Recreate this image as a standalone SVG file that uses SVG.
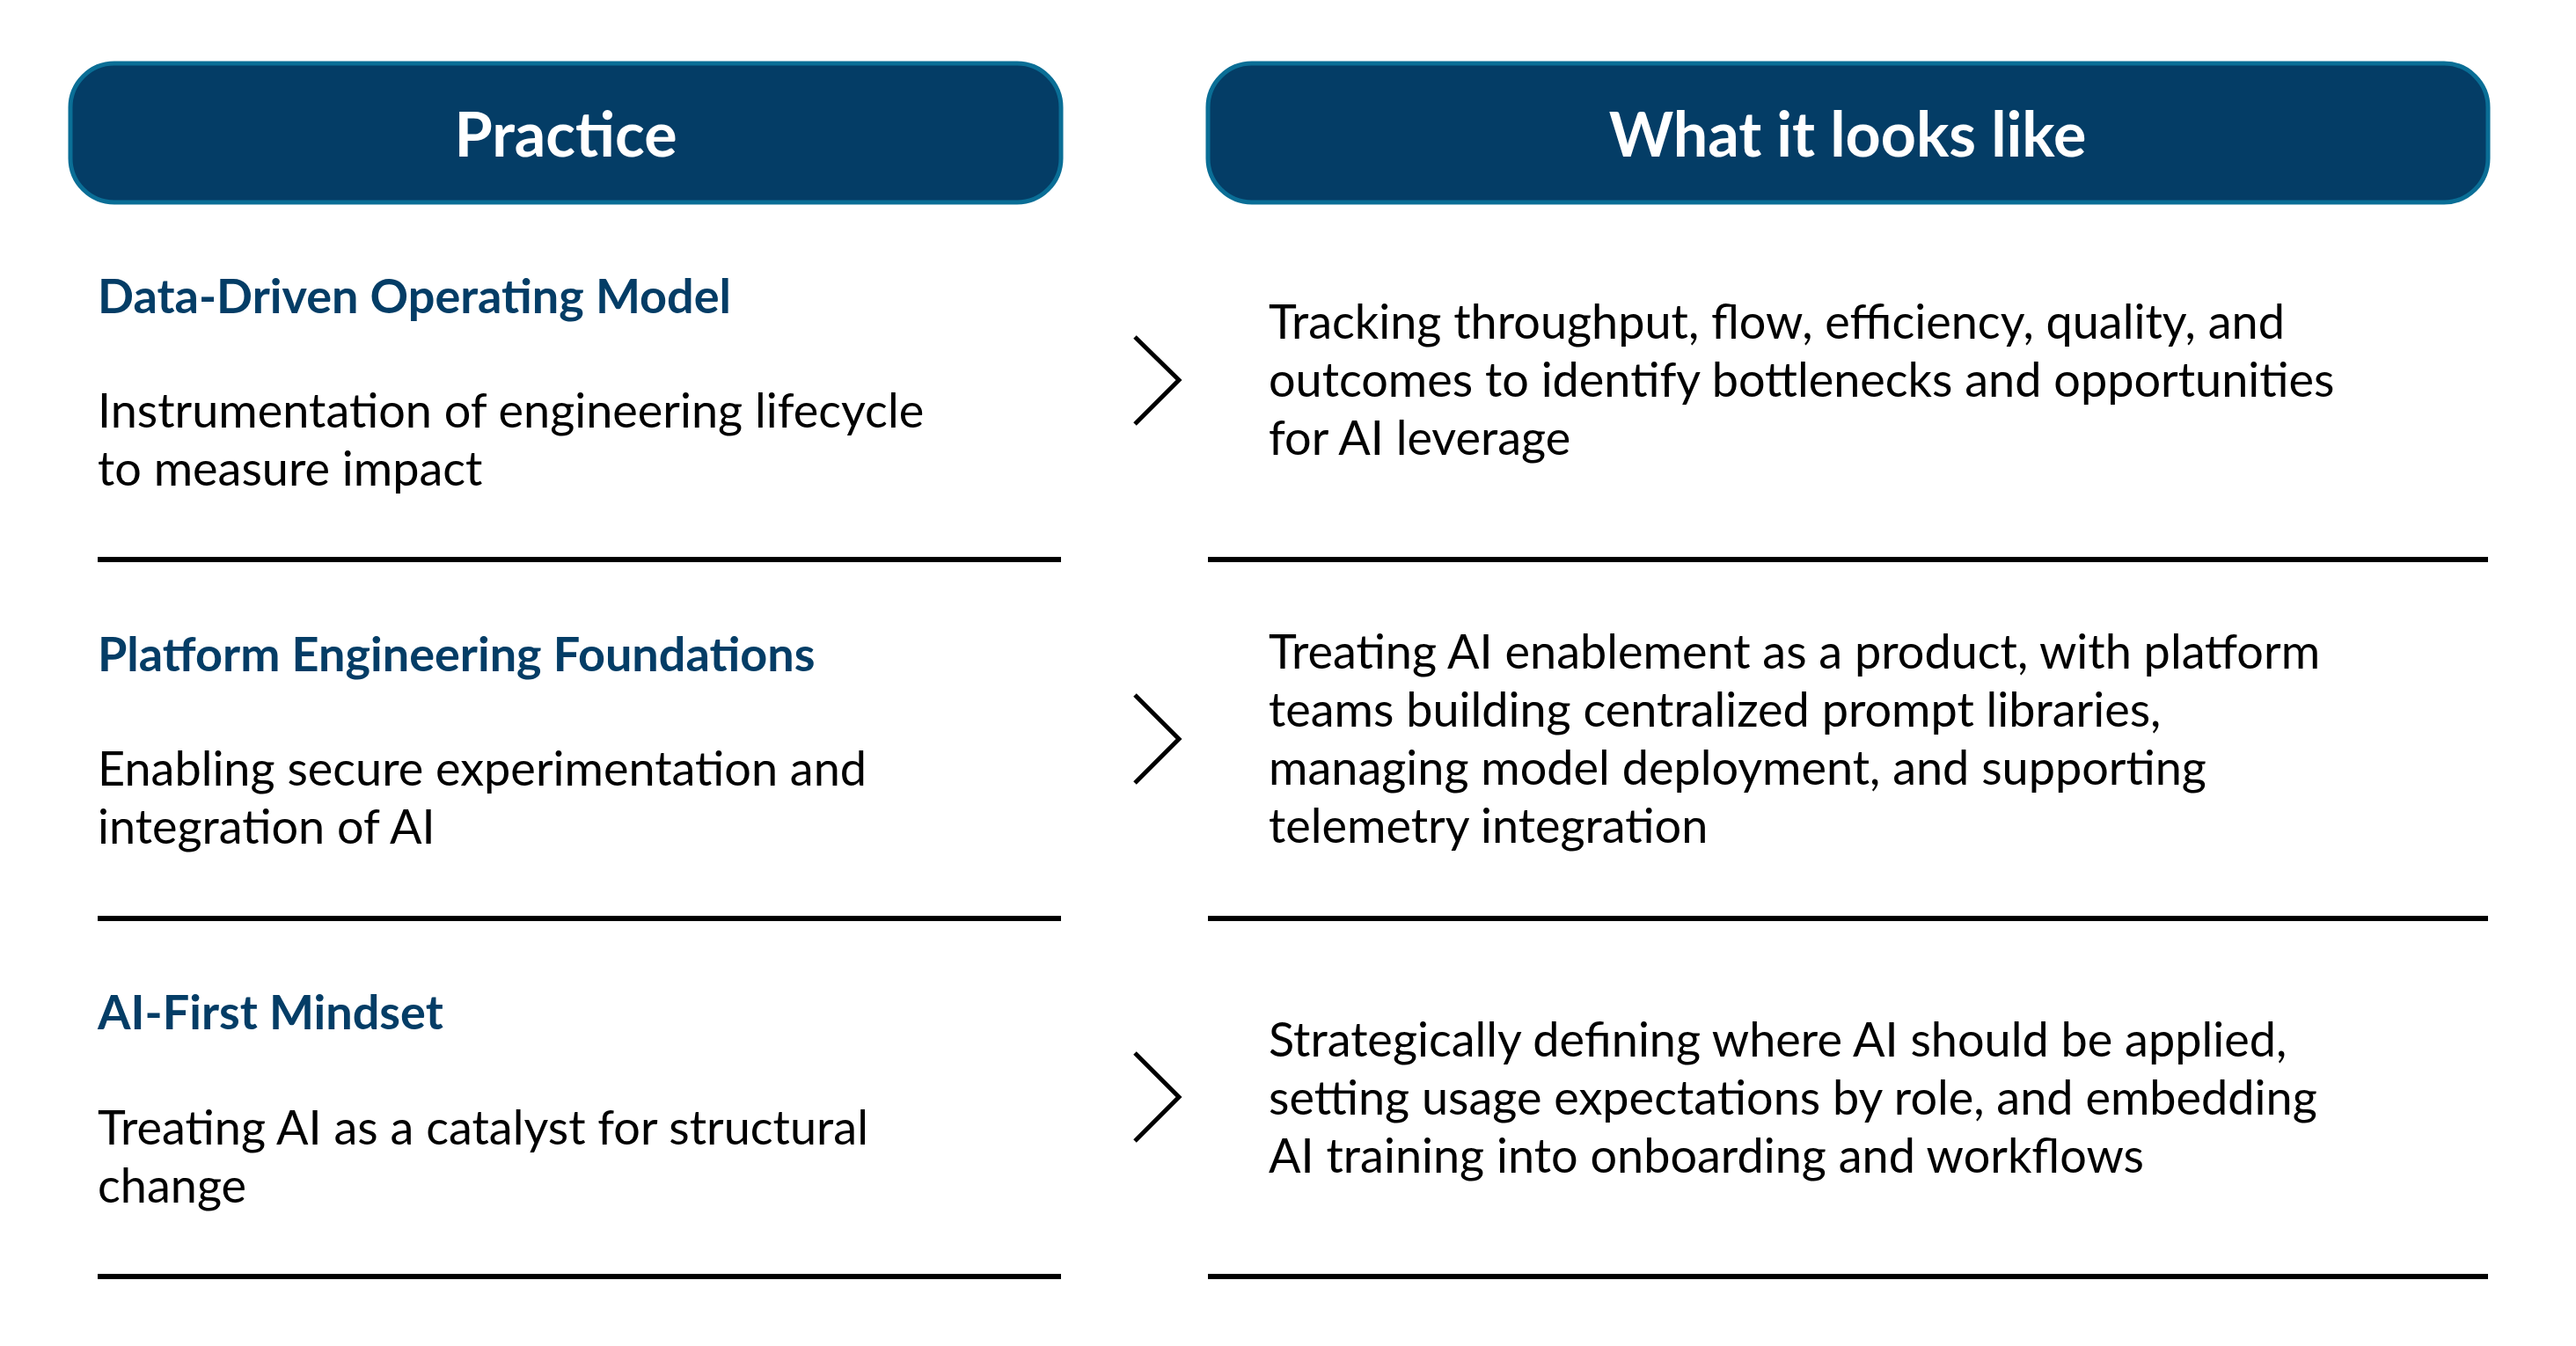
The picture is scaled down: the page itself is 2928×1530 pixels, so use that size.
<svg xmlns="http://www.w3.org/2000/svg" width="2928" height="1530" viewBox="0 0 2928 1530">
<style>
.hdr{fill:#043d66;stroke:#0a6e96;stroke-width:5}
.ht{font-family:Lato,"Liberation Sans",sans-serif;font-weight:bold;font-size:70px;fill:#fff;text-anchor:middle}
.sub{font-family:Lato,"Liberation Sans",sans-serif;font-weight:bold;font-size:54px;fill:#043d66}
.bd{font-family:Lato,"Liberation Sans",sans-serif;font-size:54px;fill:#000}
.ln{stroke:#000;stroke-width:6}
.ch{fill:none;stroke:#000;stroke-width:5}
</style>
<rect width="2928" height="1530" fill="#fff"/>
<g id="hdr-practice"><rect class="hdr" x="80" y="72" width="1126" height="158" rx="50"/><text class="ht" x="643" y="178">Practice</text></g>
<g id="hdr-looks"><rect class="hdr" x="1373" y="72" width="1455" height="158" rx="50"/><text class="ht" x="2100" y="178">What it looks like</text></g>
<g id="row1-left"><text class="sub" x="111" y="356">Data-Driven Operating Model</text>
<text class="bd" x="111" y="486">Instrumentation of engineering lifecycle</text><text class="bd" x="111" y="552">to measure impact</text></g>
<g id="row1-right"><text class="bd" x="1442" y="385">Tracking throughput, flow, efficiency, quality, and</text><text class="bd" x="1442" y="451">outcomes to identify bottlenecks and opportunities</text><text class="bd" x="1442" y="517">for AI leverage</text></g>
<g id="row2-left"><text class="sub" x="111" y="763">Platform Engineering Foundations</text>
<text class="bd" x="111" y="893">Enabling secure experimentation and</text><text class="bd" x="111" y="959">integration of AI</text></g>
<g id="row2-right"><text class="bd" x="1442" y="760">Treating AI enablement as a product, with platform</text><text class="bd" x="1442" y="826">teams building centralized prompt libraries,</text><text class="bd" x="1442" y="892">managing model deployment, and supporting</text><text class="bd" x="1442" y="958">telemetry integration</text></g>
<g id="row3-left"><text class="sub" x="111" y="1170">AI-First Mindset</text>
<text class="bd" x="111" y="1301">Treating AI as a catalyst for structural</text><text class="bd" x="111" y="1367">change</text></g>
<g id="row3-right"><text class="bd" x="1442" y="1201">Strategically defining where AI should be applied,</text><text class="bd" x="1442" y="1267">setting usage expectations by role, and embedding</text><text class="bd" x="1442" y="1333">AI training into onboarding and workflows</text></g>
<g id="connectors">
<path class="ch" d="M1290 383 L1340 432 L1290 482"/>
<path class="ch" d="M1290 790 L1340 840 L1290 890"/>
<path class="ch" d="M1290 1197 L1340 1247 L1290 1297"/>
<line class="ln" x1="111" y1="636" x2="1206" y2="636"/><line class="ln" x1="1373" y1="636" x2="2828" y2="636"/>
<line class="ln" x1="111" y1="1044" x2="1206" y2="1044"/><line class="ln" x1="1373" y1="1044" x2="2828" y2="1044"/>
<line class="ln" x1="111" y1="1451" x2="1206" y2="1451"/><line class="ln" x1="1373" y1="1451" x2="2828" y2="1451"/>
</g>
</svg>
